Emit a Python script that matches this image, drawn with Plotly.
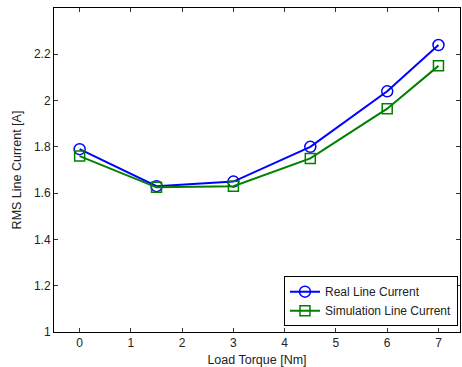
import plotly.graph_objects as go

torque = [0, 1.5, 3, 4.5, 6, 7]
real_current = [1.79, 1.63, 1.65, 1.80, 2.04, 2.24]
sim_current = [1.76, 1.625, 1.63, 1.75, 1.965, 2.15]
x_ticks = [0, 1, 2, 3, 4, 5, 6, 7]
y_ticks = [1, 1.2, 1.4, 1.6, 1.8, 2, 2.2]
y_tick_labels = ["1", "1.2", "1.4", "1.6", "1.8", "2", "2.2"]

fig = go.Figure()
fig.add_trace(go.Scatter(
    x=torque, y=real_current, mode="lines+markers", name="Real Line Current",
    line=dict(color="#0000ff", width=2),
    marker=dict(symbol="circle-open", size=11, color="#0000ff", line=dict(width=1.5)),
))
fig.add_trace(go.Scatter(
    x=torque, y=sim_current, mode="lines+markers", name="Simulation Line Current",
    line=dict(color="#008000", width=2),
    marker=dict(symbol="square-open", size=10, color="#008000", line=dict(width=1.5)),
))

W, H = 462, 367
left, right, top, bottom = 54, 460, 8, 332
fig.update_layout(
    width=W, height=H,
    margin=dict(l=left, r=W - right, t=top, b=H - bottom, pad=0),
    paper_bgcolor="white", plot_bgcolor="white",
    font=dict(family="Liberation Sans, Arial, sans-serif", size=12, color="#222"),
    showlegend=True,
    legend=dict(
        x=0.995, y=0.018, xanchor="right", yanchor="bottom",
        bordercolor="black", borderwidth=1, bgcolor="white",
        font=dict(size=12), tracegroupgap=0, itemwidth=30,
    ),
)
fig.update_xaxes(
    range=[-0.5, 7.42], tickvals=x_ticks, ticks="inside", ticklen=4,
    tickcolor="#333", showline=True, linecolor="black", linewidth=1, mirror="ticks",
    showgrid=False, zeroline=False, tickfont=dict(size=12),
    title=dict(text="Load Torque [Nm]", standoff=5, font=dict(size=12.5)),
)
fig.update_yaxes(
    range=[1, 2.4], tickvals=y_ticks, ticktext=y_tick_labels, ticks="inside", ticklen=4,
    tickcolor="#333", showline=True, linecolor="black", linewidth=1, mirror="ticks",
    showgrid=False, zeroline=False, tickfont=dict(size=12),
    title=dict(text="RMS Line Current [A]", standoff=9, font=dict(size=12.5)),
)
fig.write_html("out.html")
